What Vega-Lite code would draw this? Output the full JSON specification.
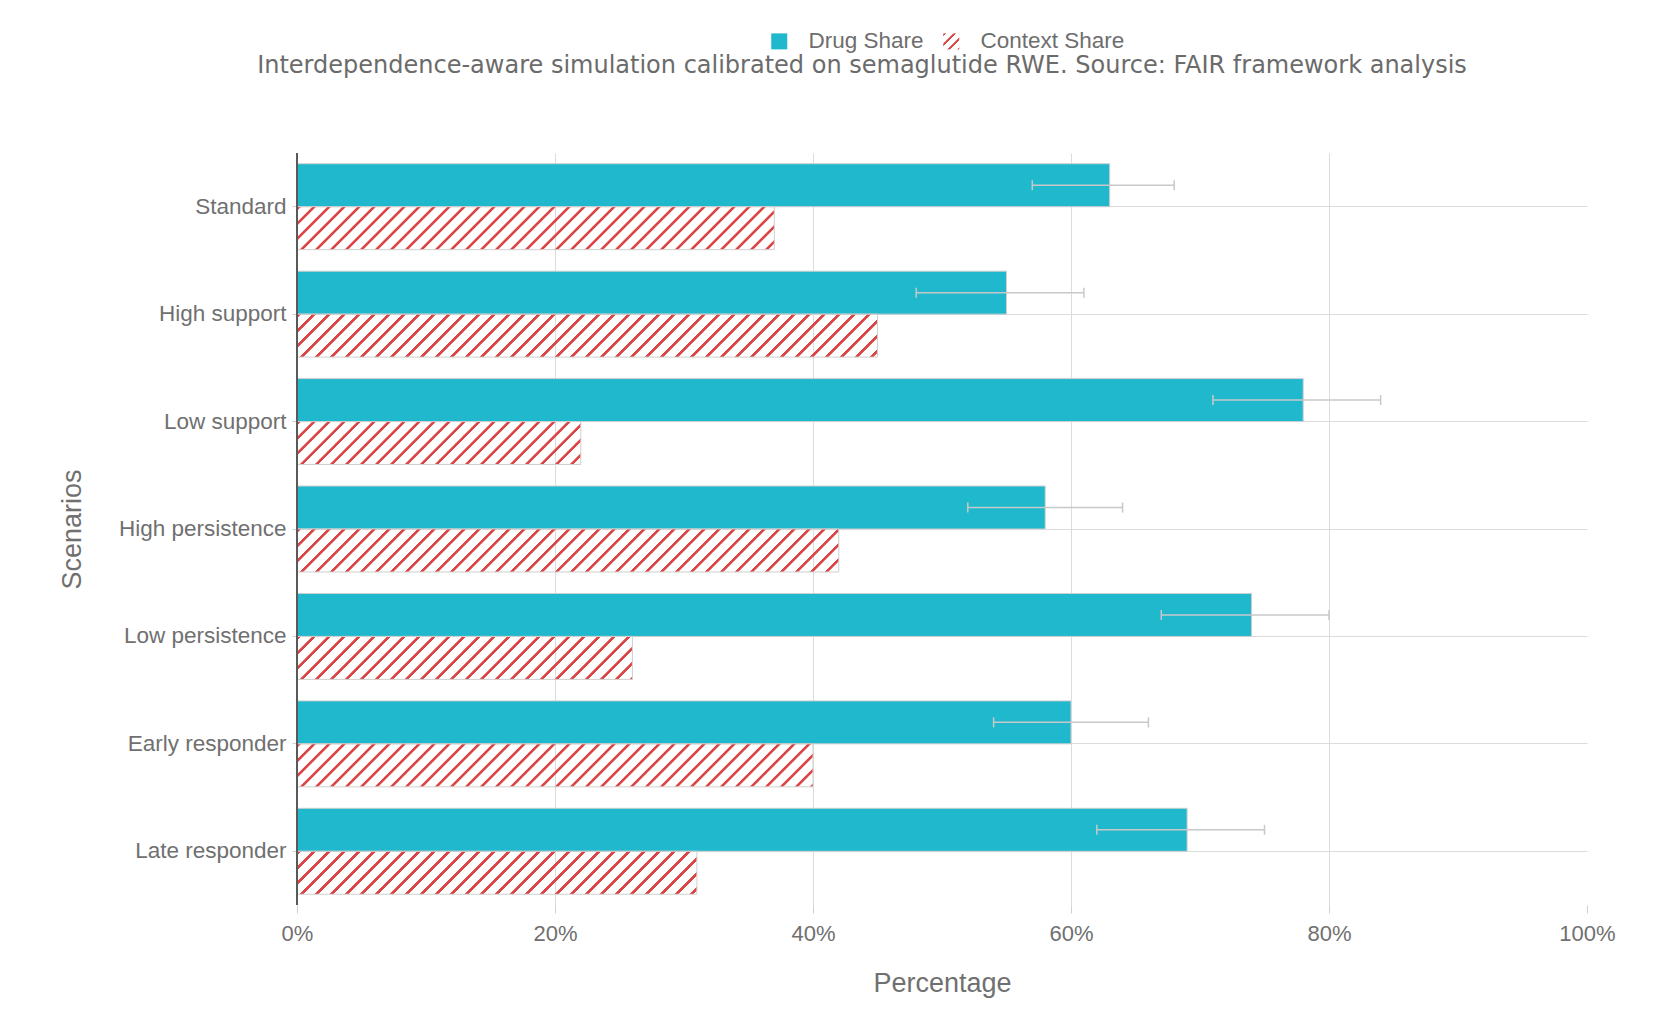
{
  "$schema": "https://vega.github.io/schema/vega-lite/v6.json",
  "width": 1290,
  "height": 752,
  "autosize": {"type": "none"},
  "padding": {"left": 297, "top": 153, "right": 73, "bottom": 131},
  "background": "#ffffff",
  "title": {
    "text": "Interdependence-aware simulation calibrated on semaglutide RWE. Source: FAIR framework analysis",
    "font": "DejaVu Sans",
    "fontSize": 24,
    "fontWeight": "normal",
    "color": "#6b6b6b",
    "anchor": "middle",
    "dx": -80,
    "offset": -67,
    "baseline": "alphabetic"
  },
  "params": [
    {
      "name": "hatchStops",
      "value": [
        {"offset": 0, "color": "rgba(219,69,69,0)"}, {"offset": 0.001, "color": "#db4545"}, {"offset": 0.005, "color": "#db4545"}, {"offset": 0.006, "color": "rgba(219,69,69,0)"},
        {"offset": 0.02, "color": "rgba(219,69,69,0)"}, {"offset": 0.021, "color": "#db4545"}, {"offset": 0.025, "color": "#db4545"}, {"offset": 0.026, "color": "rgba(219,69,69,0)"},
        {"offset": 0.04, "color": "rgba(219,69,69,0)"}, {"offset": 0.041, "color": "#db4545"}, {"offset": 0.045, "color": "#db4545"}, {"offset": 0.046, "color": "rgba(219,69,69,0)"},
        {"offset": 0.06, "color": "rgba(219,69,69,0)"}, {"offset": 0.061, "color": "#db4545"}, {"offset": 0.065, "color": "#db4545"}, {"offset": 0.066, "color": "rgba(219,69,69,0)"},
        {"offset": 0.08, "color": "rgba(219,69,69,0)"}, {"offset": 0.081, "color": "#db4545"}, {"offset": 0.085, "color": "#db4545"}, {"offset": 0.086, "color": "rgba(219,69,69,0)"},
        {"offset": 0.1, "color": "rgba(219,69,69,0)"}, {"offset": 0.101, "color": "#db4545"}, {"offset": 0.105, "color": "#db4545"}, {"offset": 0.106, "color": "rgba(219,69,69,0)"},
        {"offset": 0.12, "color": "rgba(219,69,69,0)"}, {"offset": 0.121, "color": "#db4545"}, {"offset": 0.125, "color": "#db4545"}, {"offset": 0.126, "color": "rgba(219,69,69,0)"},
        {"offset": 0.14, "color": "rgba(219,69,69,0)"}, {"offset": 0.141, "color": "#db4545"}, {"offset": 0.145, "color": "#db4545"}, {"offset": 0.146, "color": "rgba(219,69,69,0)"},
        {"offset": 0.16, "color": "rgba(219,69,69,0)"}, {"offset": 0.161, "color": "#db4545"}, {"offset": 0.165, "color": "#db4545"}, {"offset": 0.166, "color": "rgba(219,69,69,0)"},
        {"offset": 0.18, "color": "rgba(219,69,69,0)"}, {"offset": 0.181, "color": "#db4545"}, {"offset": 0.185, "color": "#db4545"}, {"offset": 0.186, "color": "rgba(219,69,69,0)"},
        {"offset": 0.2, "color": "rgba(219,69,69,0)"}, {"offset": 0.201, "color": "#db4545"}, {"offset": 0.205, "color": "#db4545"}, {"offset": 0.206, "color": "rgba(219,69,69,0)"},
        {"offset": 0.22, "color": "rgba(219,69,69,0)"}, {"offset": 0.221, "color": "#db4545"}, {"offset": 0.225, "color": "#db4545"}, {"offset": 0.226, "color": "rgba(219,69,69,0)"},
        {"offset": 0.24, "color": "rgba(219,69,69,0)"}, {"offset": 0.241, "color": "#db4545"}, {"offset": 0.245, "color": "#db4545"}, {"offset": 0.246, "color": "rgba(219,69,69,0)"},
        {"offset": 0.26, "color": "rgba(219,69,69,0)"}, {"offset": 0.261, "color": "#db4545"}, {"offset": 0.265, "color": "#db4545"}, {"offset": 0.266, "color": "rgba(219,69,69,0)"},
        {"offset": 0.28, "color": "rgba(219,69,69,0)"}, {"offset": 0.281, "color": "#db4545"}, {"offset": 0.285, "color": "#db4545"}, {"offset": 0.286, "color": "rgba(219,69,69,0)"},
        {"offset": 0.3, "color": "rgba(219,69,69,0)"}, {"offset": 0.301, "color": "#db4545"}, {"offset": 0.305, "color": "#db4545"}, {"offset": 0.306, "color": "rgba(219,69,69,0)"},
        {"offset": 0.32, "color": "rgba(219,69,69,0)"}, {"offset": 0.321, "color": "#db4545"}, {"offset": 0.325, "color": "#db4545"}, {"offset": 0.326, "color": "rgba(219,69,69,0)"},
        {"offset": 0.34, "color": "rgba(219,69,69,0)"}, {"offset": 0.341, "color": "#db4545"}, {"offset": 0.345, "color": "#db4545"}, {"offset": 0.346, "color": "rgba(219,69,69,0)"},
        {"offset": 0.36, "color": "rgba(219,69,69,0)"}, {"offset": 0.361, "color": "#db4545"}, {"offset": 0.365, "color": "#db4545"}, {"offset": 0.366, "color": "rgba(219,69,69,0)"},
        {"offset": 0.38, "color": "rgba(219,69,69,0)"}, {"offset": 0.381, "color": "#db4545"}, {"offset": 0.385, "color": "#db4545"}, {"offset": 0.386, "color": "rgba(219,69,69,0)"},
        {"offset": 0.4, "color": "rgba(219,69,69,0)"}, {"offset": 0.401, "color": "#db4545"}, {"offset": 0.405, "color": "#db4545"}, {"offset": 0.406, "color": "rgba(219,69,69,0)"},
        {"offset": 0.42, "color": "rgba(219,69,69,0)"}, {"offset": 0.421, "color": "#db4545"}, {"offset": 0.425, "color": "#db4545"}, {"offset": 0.426, "color": "rgba(219,69,69,0)"},
        {"offset": 0.44, "color": "rgba(219,69,69,0)"}, {"offset": 0.441, "color": "#db4545"}, {"offset": 0.445, "color": "#db4545"}, {"offset": 0.446, "color": "rgba(219,69,69,0)"},
        {"offset": 0.46, "color": "rgba(219,69,69,0)"}, {"offset": 0.461, "color": "#db4545"}, {"offset": 0.465, "color": "#db4545"}, {"offset": 0.466, "color": "rgba(219,69,69,0)"},
        {"offset": 0.48, "color": "rgba(219,69,69,0)"}, {"offset": 0.481, "color": "#db4545"}, {"offset": 0.485, "color": "#db4545"}, {"offset": 0.486, "color": "rgba(219,69,69,0)"},
        {"offset": 0.5, "color": "rgba(219,69,69,0)"}, {"offset": 0.501, "color": "#db4545"}, {"offset": 0.505, "color": "#db4545"}, {"offset": 0.506, "color": "rgba(219,69,69,0)"},
        {"offset": 0.52, "color": "rgba(219,69,69,0)"}, {"offset": 0.521, "color": "#db4545"}, {"offset": 0.525, "color": "#db4545"}, {"offset": 0.526, "color": "rgba(219,69,69,0)"},
        {"offset": 0.54, "color": "rgba(219,69,69,0)"}, {"offset": 0.541, "color": "#db4545"}, {"offset": 0.545, "color": "#db4545"}, {"offset": 0.546, "color": "rgba(219,69,69,0)"},
        {"offset": 0.56, "color": "rgba(219,69,69,0)"}, {"offset": 0.561, "color": "#db4545"}, {"offset": 0.565, "color": "#db4545"}, {"offset": 0.566, "color": "rgba(219,69,69,0)"},
        {"offset": 0.58, "color": "rgba(219,69,69,0)"}, {"offset": 0.581, "color": "#db4545"}, {"offset": 0.585, "color": "#db4545"}, {"offset": 0.586, "color": "rgba(219,69,69,0)"},
        {"offset": 0.6, "color": "rgba(219,69,69,0)"}, {"offset": 0.601, "color": "#db4545"}, {"offset": 0.605, "color": "#db4545"}, {"offset": 0.606, "color": "rgba(219,69,69,0)"},
        {"offset": 0.62, "color": "rgba(219,69,69,0)"}, {"offset": 0.621, "color": "#db4545"}, {"offset": 0.625, "color": "#db4545"}, {"offset": 0.626, "color": "rgba(219,69,69,0)"},
        {"offset": 0.64, "color": "rgba(219,69,69,0)"}, {"offset": 0.641, "color": "#db4545"}, {"offset": 0.645, "color": "#db4545"}, {"offset": 0.646, "color": "rgba(219,69,69,0)"},
        {"offset": 0.66, "color": "rgba(219,69,69,0)"}, {"offset": 0.661, "color": "#db4545"}, {"offset": 0.665, "color": "#db4545"}, {"offset": 0.666, "color": "rgba(219,69,69,0)"},
        {"offset": 0.68, "color": "rgba(219,69,69,0)"}, {"offset": 0.681, "color": "#db4545"}, {"offset": 0.685, "color": "#db4545"}, {"offset": 0.686, "color": "rgba(219,69,69,0)"},
        {"offset": 0.7, "color": "rgba(219,69,69,0)"}, {"offset": 0.701, "color": "#db4545"}, {"offset": 0.705, "color": "#db4545"}, {"offset": 0.706, "color": "rgba(219,69,69,0)"},
        {"offset": 0.72, "color": "rgba(219,69,69,0)"}, {"offset": 0.721, "color": "#db4545"}, {"offset": 0.725, "color": "#db4545"}, {"offset": 0.726, "color": "rgba(219,69,69,0)"},
        {"offset": 0.74, "color": "rgba(219,69,69,0)"}, {"offset": 0.741, "color": "#db4545"}, {"offset": 0.745, "color": "#db4545"}, {"offset": 0.746, "color": "rgba(219,69,69,0)"},
        {"offset": 0.76, "color": "rgba(219,69,69,0)"}, {"offset": 0.761, "color": "#db4545"}, {"offset": 0.765, "color": "#db4545"}, {"offset": 0.766, "color": "rgba(219,69,69,0)"},
        {"offset": 0.78, "color": "rgba(219,69,69,0)"}, {"offset": 0.781, "color": "#db4545"}, {"offset": 0.785, "color": "#db4545"}, {"offset": 0.786, "color": "rgba(219,69,69,0)"},
        {"offset": 0.8, "color": "rgba(219,69,69,0)"}, {"offset": 0.801, "color": "#db4545"}, {"offset": 0.805, "color": "#db4545"}, {"offset": 0.806, "color": "rgba(219,69,69,0)"},
        {"offset": 0.82, "color": "rgba(219,69,69,0)"}, {"offset": 0.821, "color": "#db4545"}, {"offset": 0.825, "color": "#db4545"}, {"offset": 0.826, "color": "rgba(219,69,69,0)"},
        {"offset": 0.84, "color": "rgba(219,69,69,0)"}, {"offset": 0.841, "color": "#db4545"}, {"offset": 0.845, "color": "#db4545"}, {"offset": 0.846, "color": "rgba(219,69,69,0)"},
        {"offset": 0.86, "color": "rgba(219,69,69,0)"}, {"offset": 0.861, "color": "#db4545"}, {"offset": 0.865, "color": "#db4545"}, {"offset": 0.866, "color": "rgba(219,69,69,0)"},
        {"offset": 0.88, "color": "rgba(219,69,69,0)"}, {"offset": 0.881, "color": "#db4545"}, {"offset": 0.885, "color": "#db4545"}, {"offset": 0.886, "color": "rgba(219,69,69,0)"},
        {"offset": 0.9, "color": "rgba(219,69,69,0)"}, {"offset": 0.901, "color": "#db4545"}, {"offset": 0.905, "color": "#db4545"}, {"offset": 0.906, "color": "rgba(219,69,69,0)"},
        {"offset": 0.92, "color": "rgba(219,69,69,0)"}, {"offset": 0.921, "color": "#db4545"}, {"offset": 0.925, "color": "#db4545"}, {"offset": 0.926, "color": "rgba(219,69,69,0)"},
        {"offset": 0.94, "color": "rgba(219,69,69,0)"}, {"offset": 0.941, "color": "#db4545"}, {"offset": 0.945, "color": "#db4545"}, {"offset": 0.946, "color": "rgba(219,69,69,0)"},
        {"offset": 0.96, "color": "rgba(219,69,69,0)"}, {"offset": 0.961, "color": "#db4545"}, {"offset": 0.965, "color": "#db4545"}, {"offset": 0.966, "color": "rgba(219,69,69,0)"},
        {"offset": 0.98, "color": "rgba(219,69,69,0)"}, {"offset": 0.981, "color": "#db4545"}, {"offset": 0.985, "color": "#db4545"}, {"offset": 0.986, "color": "rgba(219,69,69,0)"}
      ]
    }
  ],
  "data": {
    "values": [
      {"scenario": "Standard", "series": "Drug Share", "value": 63, "lo": 57, "hi": 68},
      {"scenario": "Standard", "series": "Context Share", "value": 37},
      {"scenario": "High support", "series": "Drug Share", "value": 55, "lo": 48, "hi": 61},
      {"scenario": "High support", "series": "Context Share", "value": 45},
      {"scenario": "Low support", "series": "Drug Share", "value": 78, "lo": 71, "hi": 84},
      {"scenario": "Low support", "series": "Context Share", "value": 22},
      {"scenario": "High persistence", "series": "Drug Share", "value": 58, "lo": 52, "hi": 64},
      {"scenario": "High persistence", "series": "Context Share", "value": 42},
      {"scenario": "Low persistence", "series": "Drug Share", "value": 74, "lo": 67, "hi": 80},
      {"scenario": "Low persistence", "series": "Context Share", "value": 26},
      {"scenario": "Early responder", "series": "Drug Share", "value": 60, "lo": 54, "hi": 66},
      {"scenario": "Early responder", "series": "Context Share", "value": 40},
      {"scenario": "Late responder", "series": "Drug Share", "value": 69, "lo": 62, "hi": 75},
      {"scenario": "Late responder", "series": "Context Share", "value": 31}
    ]
  },
  "layer": [
    {
      "transform": [{"filter": "datum.series === 'Drug Share'"}],
      "mark": {"type": "bar", "stroke": "#cfcfcf", "strokeWidth": 1},
      "encoding": {
        "y": {
          "field": "scenario", "type": "nominal", "title": "Scenarios",
          "scale": {"domain": ["Standard", "High support", "Low support", "High persistence", "Low persistence", "Early responder", "Late responder"], "paddingInner": 0.2, "paddingOuter": 0.1},
          "axis": {
            "domain": false, "ticks": true, "tickColor": "#d0d0d0", "tickSize": 5,
            "labelPadding": 6, "labelFontSize": 22.5, "labelFont": "Liberation Sans", "labelColor": "#707070",
            "grid": true, "gridColor": "#dcdcdc",
            "titleFontSize": 27, "titleFont": "Liberation Sans", "titleColor": "#707070", "titleFontWeight": "normal",
            "titleX": -211, "titleY": 376, "titleAngle": -90
          }
        },
        "yOffset": {"field": "series", "type": "nominal", "scale": {"domain": ["Drug Share", "Context Share"]}},
        "x": {
          "field": "value", "type": "quantitative", "title": "Percentage",
          "scale": {"domain": [0, 100], "nice": false},
          "axis": {
            "values": [0, 20, 40, 60, 80, 100], "labelExpr": "datum.value + '%'", "labelFlush": false,
            "domain": false, "grid": true,
            "gridColor": {"condition": {"test": "datum.value === 100 || datum.value === 0", "value": "transparent"}, "value": "#dcdcdc"},
            "ticks": true, "tickColor": "#d0d0d0", "tickSize": 8,
            "labelPadding": 10, "labelFontSize": 22, "labelFont": "Liberation Sans", "labelColor": "#707070",
            "titleFontSize": 27, "titleFont": "Liberation Sans", "titleColor": "#707070", "titleFontWeight": "normal", "titlePadding": 26
          }
        },
        "color": {
          "field": "series", "type": "nominal",
          "scale": {
            "domain": ["Drug Share", "Context Share"],
            "range": ["#1fb8cd", {"expr": "{gradient: 'linear', x1: 0, y1: 0, x2: 15.6, y2: 15.6, stops: hatchStops}"}]
          },
          "legend": {
            "title": null, "orient": "none", "legendX": 471, "legendY": -123, "direction": "horizontal",
            "symbolType": "square", "symbolSize": 256, "symbolStrokeWidth": 0, "symbolOpacity": 1,
            "labelFontSize": 22.5, "labelFont": "Liberation Sans", "labelColor": "#6e6e6e", "labelOffset": 18, "columnPadding": 16
          }
        }
      }
    },
    {
      "transform": [{"filter": "datum.series === 'Context Share'"}],
      "mark": {
        "type": "bar",
        "stroke": "#cfcfcf",
        "strokeWidth": 1,
        "fill": {"expr": "{gradient: 'linear', x1: 0, y1: 0, x2: scale('x', datum.value) * 750 / (pow(scale('x', datum.value), 2) + pow(bandwidth('yOffset'), 2)), y2: bandwidth('yOffset') * 750 / (pow(scale('x', datum.value), 2) + pow(bandwidth('yOffset'), 2)), stops: hatchStops}"}
      },
      "encoding": {
        "y": {"field": "scenario", "type": "nominal", "title": "Scenarios"},
        "yOffset": {"field": "series", "type": "nominal"},
        "x": {"field": "value", "type": "quantitative", "title": "Percentage"}
      }
    },
    {
      "transform": [{"filter": "datum.series === 'Drug Share'"}],
      "mark": {"type": "rule", "color": "#c8c8c8", "strokeWidth": 1.5},
      "encoding": {
        "y": {"field": "scenario", "type": "nominal", "title": "Scenarios"},
        "yOffset": {"field": "series", "type": "nominal"},
        "x": {"field": "lo", "type": "quantitative", "title": "Percentage"},
        "x2": {"field": "hi"}
      }
    },
    {
      "transform": [{"filter": "datum.series === 'Drug Share'"}],
      "mark": {"type": "tick", "color": "#c8c8c8", "thickness": 1.5, "size": 10, "opacity": 1},
      "encoding": {
        "y": {"field": "scenario", "type": "nominal", "title": "Scenarios"},
        "yOffset": {"field": "series", "type": "nominal"},
        "x": {"field": "lo", "type": "quantitative", "title": "Percentage"}
      }
    },
    {
      "transform": [{"filter": "datum.series === 'Drug Share'"}],
      "mark": {"type": "tick", "color": "#c8c8c8", "thickness": 1.5, "size": 10, "opacity": 1},
      "encoding": {
        "y": {"field": "scenario", "type": "nominal", "title": "Scenarios"},
        "yOffset": {"field": "series", "type": "nominal"},
        "x": {"field": "hi", "type": "quantitative", "title": "Percentage"}
      }
    },
    {
      "mark": {"type": "rule", "color": "#5a5a5a", "strokeWidth": 1.2},
      "encoding": {"x": {"datum": 0, "type": "quantitative", "title": "Percentage"}}
    }
  ],
  "config": {
    "view": {"stroke": null},
    "font": "Liberation Sans"
  }
}
